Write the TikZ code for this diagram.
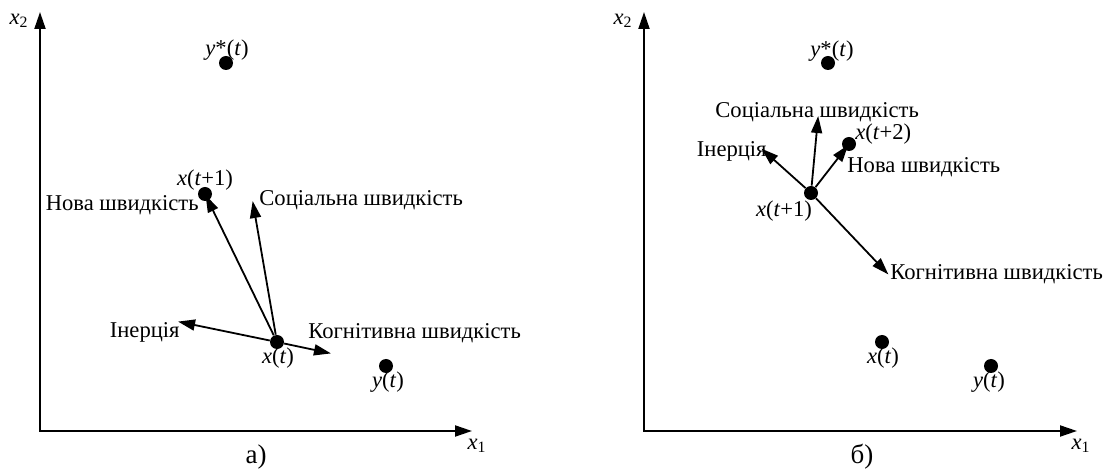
\documentclass[tikz,border=0pt]{standalone}
\usepackage{fontspec}
\setmainfont{Liberation Serif}
\usetikzlibrary{arrows.meta,positioning}

\begin{document}
\begin{tikzpicture}[x=0.5pt,y=-0.5pt,>={Triangle[length=8.5pt,width=5.5pt]},font=\rmfamily\fontsize{11.3}{13}\selectfont]
  \tikzset{pt/.style={circle,fill,inner sep=0pt,minimum size=7pt},
    lbl/.style={inner sep=0pt},
    vec/.style={->,line width=0.9pt,shorten >=-1pt},
    axis/.style={<->,line width=1pt}}
  \useasboundingbox (0,0) rectangle (1116,470);
  % panel a)
  \coordinate (ya) at (40,12);
  \coordinate (oa) at (40,431);
  \coordinate (xa) at (472,431);
  \draw[axis] (ya) -- (oa) -- (xa);
  \node[lbl] (x2a) at (19,21) {\textit{x}\textsubscript{2}};
  \node[lbl] (x1a) at (477,446) {\textit{x}\textsubscript{1}};
  \node[pt] (ystara) at (226,63) {};
  \node[pt] (xt1a) at (205,194) {};
  \node[pt] (xta) at (277,342) {};
  \node[pt] (yta) at (386,366) {};
  \coordinate (inerta) at (180,322);
  \coordinate (cogna) at (329,353);
  \coordinate (soca) at (253,203);
  \draw[vec] (xta) -- (inerta);
  \draw[vec] (xta) -- (cogna);
  \draw[vec] (xta) -- (soca);
  \draw[vec,shorten >=-3pt] (xta) -- (xt1a);
  \node[lbl] (ystarla) at (227,50) {\textit{y}*(\textit{t})};
  \node[lbl] (xt1la) at (205,180) {\textit{x}(\textit{t}+1)};
  \node[lbl] (xtla) at (278,358) {\textit{x}(\textit{t})};
  \node[lbl] (ytla) at (388,382) {\textit{y}(\textit{t})};
  \node[lbl,anchor=east] (newla) at (199,205) {Нова швидкість};
  \node[lbl,anchor=west] (socla) at (259,200) {Соціальна швидкість};
  \node[lbl,anchor=east] (inertla) at (180,332) {Інерція};
  \node[lbl,anchor=west] (cognla) at (308,333) {Когнітивна швидкість};
  \node[lbl,font=\rmfamily\fontsize{13.5}{16}\selectfont] (capa) at (256,457) {а)};
  % panel b)
  \coordinate (yb) at (644,12);
  \coordinate (ob) at (644,431);
  \coordinate (xb) at (1077,431);
  \draw[axis] (yb) -- (ob) -- (xb);
  \node[lbl] (x2b) at (623,21) {\textit{x}\textsubscript{2}};
  \node[lbl] (x1b) at (1081,446) {\textit{x}\textsubscript{1}};
  \node[pt] (ystarb) at (828,63) {};
  \node[pt] (xt2b) at (849,144) {};
  \node[pt] (xt1b) at (811,193) {};
  \node[pt] (xtb) at (882,342) {};
  \node[pt] (ytb) at (991,366) {};
  \coordinate (inertb) at (763,150);
  \coordinate (socb) at (818,118);
  \coordinate (cognb) at (887,273);
  \draw[vec] (xt1b) -- (inertb);
  \draw[vec] (xt1b) -- (socb);
  \draw[vec] (xt1b) -- (cognb);
  \draw[vec,shorten >=-3pt] (xt1b) -- (xt2b);
  \node[lbl] (ystarlb) at (832,51) {\textit{y}*(\textit{t})};
  \node[lbl,anchor=west] (xt2lb) at (855,134) {\textit{x}(\textit{t}+2)};
  \node[lbl] (xt1lb) at (784,211) {\textit{x}(\textit{t}+1)};
  \node[lbl] (xtlb) at (883,358) {\textit{x}(\textit{t})};
  \node[lbl] (ytlb) at (989,382) {\textit{y}(\textit{t})};
  \node[lbl,anchor=west] (soclb) at (715,112) {Соціальна швидкість};
  \node[lbl,anchor=east] (inertlb) at (767,151) {Інерція};
  \node[lbl,anchor=west] (newlb) at (847,167) {Нова швидкість};
  \node[lbl,anchor=west] (cognlb) at (890,274) {Когнітивна швидкість};
  \node[lbl,font=\rmfamily\fontsize{13.5}{16}\selectfont] (capb) at (862,457) {б)};
\end{tikzpicture}
\end{document}
